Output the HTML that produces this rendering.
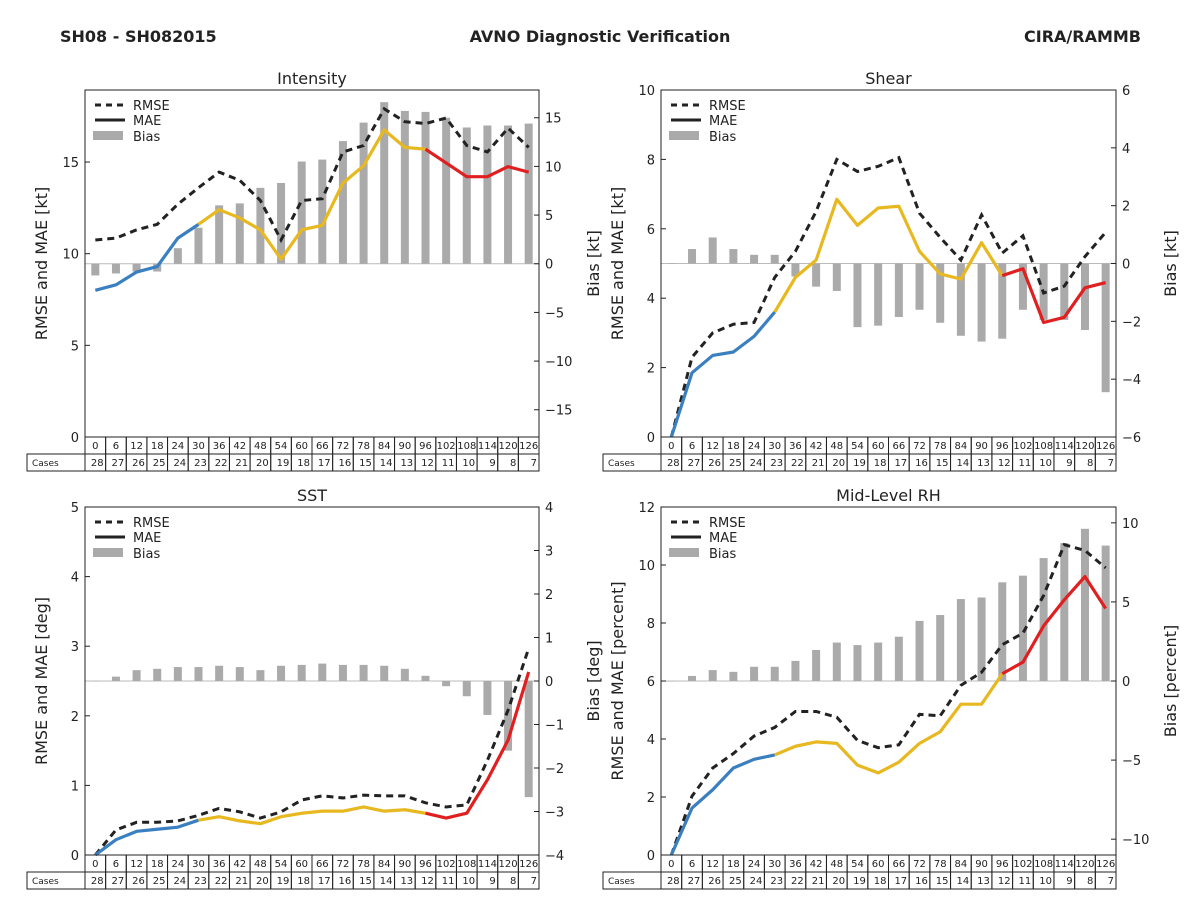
<!DOCTYPE html>
<html><head><meta charset="utf-8">
<style>
body{margin:0;background:#fff;font-family:"Liberation Sans","DejaVu Sans",sans-serif;}
svg text{font-family:"DejaVu Sans","Liberation Sans",sans-serif;fill:#222;}
</style></head>
<body>
<svg id="chart" width="1200" height="900" xmlns="http://www.w3.org/2000/svg">
<text x="60" y="42" font-size="16" font-weight="bold">SH08 - SH082015</text>
<text x="600" y="42" font-size="16" font-weight="bold" text-anchor="middle">AVNO Diagnostic Verification</text>
<text x="1141" y="42" font-size="16" font-weight="bold" text-anchor="end">CIRA/RAMMB</text>
</svg>
<script>
const hours=[0,6,12,18,24,30,36,42,48,54,60,66,72,78,84,90,96,102,108,114,120,126];
const cases=[28,27,26,25,24,23,22,21,20,19,18,17,16,15,14,13,12,11,10,9,8,7];
const intRmse=[10.75,10.85,11.3,11.6,12.7,13.6,14.45,14.0,12.9,10.75,12.9,13.0,15.55,15.9,17.9,17.2,17.1,17.4,15.9,15.55,16.85,15.8];
const intMae=[8.0,8.3,9.0,9.3,10.85,11.6,12.4,11.95,11.3,9.7,11.3,11.55,13.85,14.8,16.75,15.8,15.7,14.95,14.2,14.2,14.75,14.45];
const intBias=[-1.2,-1.0,-0.8,-0.8,1.6,3.7,6.0,6.2,7.8,8.3,10.5,10.7,12.6,14.5,16.6,15.7,15.6,15.0,14.0,14.2,14.2,14.4];
const shrRmse=[0,2.3,3.0,3.25,3.3,4.6,5.35,6.5,8.0,7.65,7.8,8.05,6.45,5.75,5.1,6.4,5.3,5.8,4.15,4.35,5.2,5.9];
const shrMae=[0,1.85,2.35,2.45,2.9,3.6,4.6,5.1,6.85,6.1,6.6,6.65,5.35,4.7,4.55,5.6,4.65,4.85,3.3,3.45,4.3,4.45];
const shrBias=[0,0.5,0.9,0.5,0.3,0.3,-0.45,-0.8,-0.95,-2.2,-2.15,-1.85,-1.6,-2.05,-2.5,-2.7,-2.6,-1.6,-1.95,-1.95,-2.3,-4.45];
const sstRmse=[0,0.36,0.47,0.47,0.49,0.57,0.67,0.62,0.53,0.62,0.79,0.85,0.82,0.86,0.85,0.85,0.75,0.69,0.72,1.36,2.08,2.97];
const sstMae=[0,0.22,0.34,0.37,0.40,0.50,0.55,0.49,0.45,0.55,0.60,0.63,0.63,0.69,0.63,0.65,0.60,0.53,0.60,1.08,1.65,2.63];
const sstBias=[0,0.1,0.25,0.28,0.32,0.32,0.35,0.32,0.25,0.35,0.37,0.4,0.37,0.37,0.35,0.28,0.12,-0.12,-0.35,-0.78,-1.6,-2.67];
const rhRmse=[0,2.03,3.0,3.5,4.1,4.4,4.95,4.95,4.75,3.95,3.7,3.8,4.85,4.8,5.85,6.3,7.25,7.65,8.95,10.7,10.5,9.9];
const rhMae=[0,1.62,2.25,3.0,3.3,3.45,3.75,3.9,3.85,3.1,2.83,3.2,3.85,4.25,5.2,5.2,6.25,6.65,7.9,8.8,9.6,8.5];
const rhBias=[0,0.32,0.69,0.58,0.9,0.9,1.27,1.96,2.43,2.27,2.43,2.8,3.8,4.17,5.18,5.28,6.24,6.66,7.77,8.72,9.62,8.56];

const NS="http://www.w3.org/2000/svg";
const svg=document.getElementById('chart');
function el(tag,attrs,parent,txt){const e=document.createElementNS(NS,tag);for(const k in attrs)e.setAttribute(k,attrs[k]);if(txt!==undefined)e.textContent=txt;(parent||svg).appendChild(e);return e;}

const panels=[
 {name:'intensity',title:'Intensity',unit:'kt',x0:85,x1:539,y0:90,y1:437,lmax:18.93,lticks:[0,5,10,15],rmin:-17.8,rmax:17.85,rticks:[-15,-10,-5,0,5,10,15],rmse:intRmse,mae:intMae,bias:intBias},
 {name:'shear',title:'Shear',unit:'kt',x0:661,x1:1116,y0:90,y1:437,lmax:10,lticks:[0,2,4,6,8,10],rmin:-6,rmax:6,rticks:[-6,-4,-2,0,2,4,6],rmse:shrRmse,mae:shrMae,bias:shrBias},
 {name:'sst',title:'SST',unit:'deg',x0:85,x1:539,y0:507,y1:855,lmax:5,lticks:[0,1,2,3,4,5],rmin:-4,rmax:4,rticks:[-4,-3,-2,-1,0,1,2,3,4],rmse:sstRmse,mae:sstMae,bias:sstBias},
 {name:'mid-level-rh',title:'Mid-Level RH',unit:'percent',x0:661,x1:1116,y0:507,y1:855,lmax:12,lticks:[0,2,4,6,8,10,12],rmin:-11,rmax:11,rticks:[-10,-5,0,5,10],rmse:rhRmse,mae:rhMae,bias:rhBias}
];

panels.forEach(p=>{
 const g=el('g',{});
 
 
 const n=hours.length, cw=(p.x1-p.x0)/n;
 const xs=i=>p.x0+(i+0.5)*cw;
 const yl=v=>p.y1-(v/p.lmax)*(p.y1-p.y0);
 const yr=v=>p.y1-((v-p.rmin)/(p.rmax-p.rmin))*(p.y1-p.y0);
 const t=el('text',{x:(p.x0+p.x1)/2,y:p.y0-6,'font-size':16,'text-anchor':'middle'},g,p.title);
 
 const z=el('line',{x1:p.x0,x2:p.x1,y1:yr(0),y2:yr(0),stroke:'#bbb','stroke-width':1},g);
 
 p.bias.forEach((v,i)=>{
  const y=Math.min(yr(v),yr(0)),h=Math.abs(yr(v)-yr(0));
  const b=el('rect',{x:xs(i)-4,y:y,width:8,height:Math.max(h,0.5),fill:'#aaaaaa'},g);
  
 });
 const rp=p.rmse.map((v,i)=>xs(i)+','+yl(v)).join(' ');
 const r=el('polyline',{points:rp,fill:'none',stroke:'#222','stroke-width':3,'stroke-dasharray':'7,5'},g);
 
 const segs=[[0,5,'#3a7fbf','mae-line-early'],[5,16,'#e8b820','mae-line-mid'],[16,21,'#e02020','mae-line-late']];
 segs.forEach(s=>{
  const pts=[];for(let i=s[0];i<=s[1];i++)pts.push(xs(i)+','+yl(p.mae[i]));
  const m=el('polyline',{points:pts.join(' '),fill:'none',stroke:s[2],'stroke-width':3.2,'stroke-linejoin':'round'},g);
  
 });
 const f=el('rect',{x:p.x0,y:p.y0,width:p.x1-p.x0,height:p.y1-p.y0,fill:'none',stroke:'#222','stroke-width':1},g);
 
 p.lticks.forEach(v=>{
  el('line',{x1:p.x0,x2:p.x0+5,y1:yl(v),y2:yl(v),stroke:'#222'},g);
  const tl=el('text',{x:p.x0-6,y:yl(v)+5,'font-size':13,'text-anchor':'end'},g,String(v));
  
 });
 p.rticks.forEach(v=>{
  el('line',{x1:p.x1-5,x2:p.x1,y1:yr(v),y2:yr(v),stroke:'#222'},g);
  const tl=el('text',{x:p.x1+6,y:yr(v)+5,'font-size':13},g,(v<0?'\u2212'+(-v):String(v)));
  
 });
 const cy=(p.y0+p.y1)/2;
 const al=el('text',{x:0,y:0,'font-size':16,'text-anchor':'middle',transform:`translate(${p.x0-38},${cy}) rotate(-90)`},g,'RMSE and MAE ['+p.unit+']');
 
 const ar=el('text',{x:0,y:0,'font-size':16,'text-anchor':'middle',transform:`translate(${p.x1+60},${cy}) rotate(-90)`},g,'Bias ['+p.unit+']');
 
 const lx=p.x0+10,ly=p.y0+15;
 const l1=el('line',{x1:lx,x2:lx+30,y1:ly,y2:ly,stroke:'#222','stroke-width':3,'stroke-dasharray':'6,5'},g);
 
 const lt1=el('text',{x:lx+38,y:ly+5,'font-size':13},g,'RMSE');
 
 const l2=el('line',{x1:lx,x2:lx+30,y1:ly+15,y2:ly+15,stroke:'#222','stroke-width':3},g);
 
 const lt2=el('text',{x:lx+38,y:ly+20,'font-size':13},g,'MAE');
 
 const l3=el('rect',{x:lx-2,y:ly+26,width:30,height:9,fill:'#aaaaaa'},g);
 
 const lt3=el('text',{x:lx+38,y:ly+36,'font-size':13},g,'Bias');
 
 const ty0=p.y1,ty1=p.y1+17;
 const lbl=el('rect',{x:p.x0-58,y:ty1,width:58,height:17,fill:'none',stroke:'#222'},g);
 
 const ct=el('text',{x:p.x0-53,y:ty1+12,'font-size':9},g,'Cases');
 
 hours.forEach((h,i)=>{
  const cx=p.x0+i*cw;
  el('rect',{x:cx,y:ty0,width:cw,height:17,fill:'none',stroke:'#222'},g);
  el('rect',{x:cx,y:ty1,width:cw,height:17,fill:'none',stroke:'#222'},g);
  const ht=el('text',{x:cx+cw/2,y:ty0+12,'font-size':10,'text-anchor':'middle'},g,String(h));
  
  const cc=el('text',{x:cx+cw-2,y:ty1+12,'font-size':10,'text-anchor':'end'},g,String(cases[i]));
  
 });
});
</script>
</body></html>
